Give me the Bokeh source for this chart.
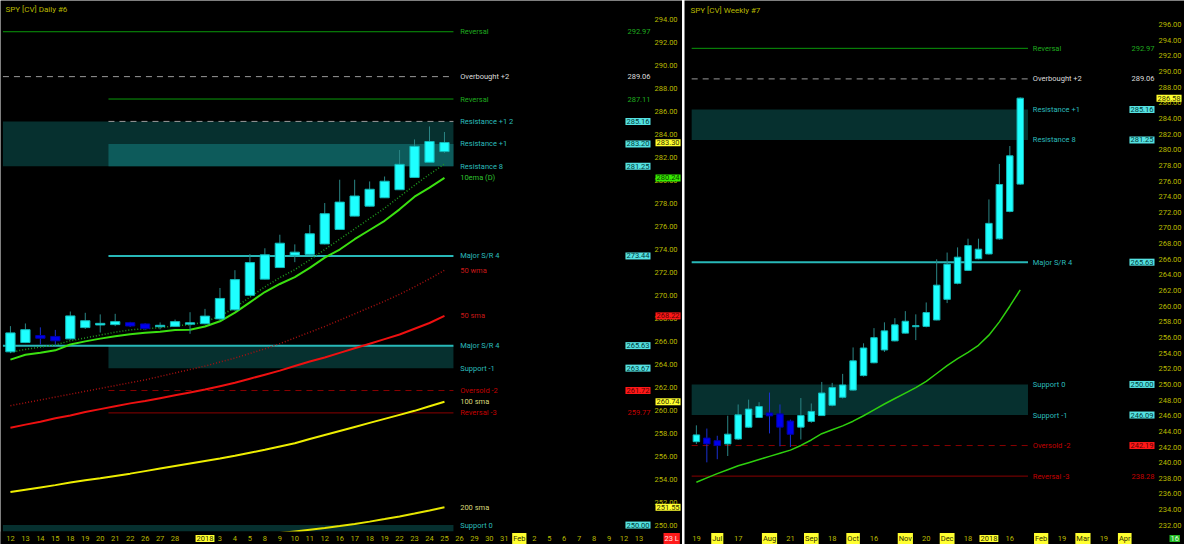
from bokeh.plotting import figure
from bokeh.models import Range1d, Label, ColumnDataSource
from bokeh.core.properties import value
from bokeh.layouts import row
from bokeh.embed import file_html
from bokeh.resources import INLINE

# ---------------- DATA ----------------
# Daily panel (Dec 12 2017 .. Feb 13 2018 axis, candles to Jan 25)
daily_tick_labels = ["12", "13", "14", "15", "18", "19", "20", "21", "22", "26", "27", "28", "",
                     "2018", "3", "4", "5", "8", "9", "10", "11", "12", "16", "17", "18", "19",
                     "22", "23", "24", "25", "26", "29", "30", "31", "Feb", "2", "5", "6", "7",
                     "8", "9", "12", "13"]
daily_highlight = ["2018", "Feb"]
daily_yticks = [250, 252, 254, 256, 258, 260, 262, 264, 266, 268, 270, 272, 274, 276, 278, 280,
                282, 284, 286, 288, 290, 292, 294]
daily_open = [265.11, 265.92, 266.49, 266.41, 266.24, 267.22, 267.45, 267.48, 267.61, 267.50,
              267.30, 267.33, 267.52, 267.56, 267.98, 268.77, 270.03, 271.44, 272.45, 273.52,
              273.60, 274.51, 275.77, 276.93, 277.80, 278.53, 279.23, 280.30, 281.62, 282.55]
daily_high = [267.33, 267.56, 267.22, 267.00, 268.60, 268.49, 268.35, 268.40, 267.70, 267.58,
              267.65, 267.90, 268.54, 268.83, 270.65, 272.20, 273.60, 274.11, 275.29, 274.45,
              276.14, 278.05, 280.08, 280.08, 279.93, 280.36, 282.67, 283.59, 284.72, 284.24]
daily_low = [264.97, 265.85, 265.73, 265.73, 266.15, 267.08, 266.77, 267.33, 267.25, 267.00,
             267.05, 267.27, 266.66, 267.48, 267.84, 268.68, 270.00, 271.40, 272.40, 272.90,
             273.55, 274.45, 275.70, 276.90, 277.75, 278.50, 279.20, 280.25, 281.60, 282.41]
daily_close = [266.72, 267.00, 266.29, 266.07, 268.20, 267.78, 267.55, 267.70, 267.36, 267.14,
               267.38, 267.70, 267.60, 268.18, 269.72, 271.36, 272.84, 273.52, 274.53, 273.75,
               275.35, 277.10, 278.11, 278.64, 279.23, 279.93, 281.40, 282.97, 283.39, 283.30]
daily_ema10 = [264.41, 264.83, 265.00, 265.22, 265.73, 266.00, 266.24, 266.45, 266.63, 266.75,
               266.83, 267.00, 267.02, 267.30, 267.75, 268.50, 269.40, 270.30, 271.00, 271.60,
               272.40, 273.30, 274.00, 274.90, 275.70, 276.50, 277.50, 278.60, 279.40, 280.24]
daily_dotted = [265.05, 265.30, 265.50, 265.70, 266.05, 266.30, 266.55, 266.80, 267.00, 267.10,
                267.20, 267.35, 267.45, 267.70, 268.20, 268.95, 269.85, 270.75, 271.55, 272.25,
                273.10, 274.00, 274.90, 275.80, 276.70, 277.60, 278.60, 279.60, 280.55, 281.45]
daily_wma50 = [260.40, 260.65, 260.90, 261.15, 261.40, 261.65, 261.90, 262.15, 262.40, 262.65,
               262.95, 263.25, 263.55, 263.85, 264.20, 264.55, 264.95, 265.35, 265.80, 266.30,
               266.80, 267.30, 267.85, 268.40, 268.95, 269.50, 270.10, 270.75, 271.45, 272.20]
daily_sma50 = [258.47, 258.75, 259.00, 259.30, 259.55, 259.85, 260.10, 260.35, 260.60, 260.80,
               261.05, 261.30, 261.55, 261.80, 262.10, 262.40, 262.75, 263.10, 263.45, 263.85,
               264.25, 264.60, 265.00, 265.40, 265.80, 266.20, 266.60, 267.10, 267.60, 268.22]
daily_sma100 = [252.88, 253.08, 253.28, 253.48, 253.70, 253.90, 254.08, 254.28, 254.48, 254.70,
                254.92, 255.14, 255.36, 255.58, 255.80, 256.04, 256.30, 256.56, 256.84, 257.12,
                257.50, 257.85, 258.20, 258.55, 258.90, 259.25, 259.60, 259.95, 260.35, 260.74]
daily_sma200 = [246.90, 247.00, 247.10, 247.20, 247.30, 247.40, 247.50, 247.60, 247.70, 247.80,
                247.90, 248.05, 248.20, 248.35, 248.50, 248.70, 248.90, 249.10, 249.30, 249.45,
                249.60, 249.75, 249.92, 250.10, 250.30, 250.52, 250.75, 251.00, 251.27, 251.55]
daily_level_names = ["Reversal", "Overbought +2", "Reversal", "Resistance +1 2", "Resistance +1",
                     "Resistance 8", "Major S/R 4", "Major S/R 4", "Support -1", "Oversold -2",
                     "Reversal -3", "Support 0"]
daily_level_values = [292.97, 289.06, 287.11, 285.16, 283.20, 281.25, 273.44, 265.63, 263.67,
                      261.72, 259.77, 250.00]
daily_ind_names = ["10ema (D)", "50 wma", "50 sma", "100 sma", "200 sma"]
daily_last = 283.30

# Weekly panel (Jun 19 2017 .. Jan 22 2018 candles)
weekly_tick_idx = [0, 2, 4, 7, 9, 11, 13, 15, 17, 20, 22, 24, 26, 28, 30, 33, 35, 37, 39, 41]
weekly_tick_text = ["19", "Jul", "17", "Aug", "21", "Sep", "18", "Oct", "16", "Nov", "20", "Dec",
                    "18", "2018", "16", "Feb", "19", "Mar", "19", "Apr"]
weekly_highlight = ["Jul", "Aug", "Sep", "Oct", "Nov", "Dec", "2018", "Feb", "Mar", "Apr"]
weekly_yticks = [232, 234, 236, 238, 240, 242, 244, 246, 248, 250, 252, 254, 256, 258, 260, 262,
                 264, 266, 268, 270, 272, 274, 276, 278, 280, 282, 284, 286, 288, 290, 292, 294,
                 296]
weekly_open = [242.70, 243.12, 242.79, 242.42, 243.04, 244.56, 245.79, 246.33, 246.21, 245.30,
               244.56, 245.30, 246.04, 247.36, 248.38, 249.30, 251.15, 252.79, 254.43, 255.59,
               256.58, 257.40, 257.44, 258.26, 260.90, 262.95, 264.60, 266.09, 266.70, 268.63,
               272.14, 275.63]
weekly_high = [244.77, 244.36, 243.44, 246.00, 247.44, 248.06, 247.73, 248.96, 247.44, 245.50,
               248.26, 247.57, 250.32, 250.20, 251.35, 254.73, 255.26, 257.20, 257.94, 258.47,
               259.37, 258.96, 260.48, 266.00, 266.86, 267.52, 268.63, 268.63, 273.65, 278.19,
               280.48, 286.70]
weekly_low = [242.38, 240.04, 240.44, 240.85, 242.90, 244.45, 245.70, 243.74, 242.09, 242.00,
              242.96, 245.10, 246.00, 247.20, 248.20, 249.20, 251.00, 252.70, 254.15, 255.50,
              256.50, 255.67, 257.30, 258.20, 260.40, 262.80, 264.50, 266.00, 266.60, 268.50,
              272.00, 275.50]
weekly_close = [243.53, 242.42, 242.21, 243.62, 246.09, 246.83, 247.15, 246.00, 244.56, 243.65,
                246.00, 246.53, 248.88, 249.58, 249.91, 253.00, 254.64, 255.96, 256.83, 257.60,
                258.06, 257.50, 259.17, 262.67, 265.35, 266.25, 267.73, 267.27, 270.57, 275.54,
                279.21, 286.58]
weekly_ma = [237.50, 238.05, 238.60, 239.10, 239.60, 240.00, 240.40, 240.80, 241.20, 241.60,
             242.20, 242.90, 243.70, 244.20, 244.70, 245.30, 246.00, 246.75, 247.50, 248.20,
             248.90, 249.60, 250.40, 251.40, 252.40, 253.30, 254.10, 255.00, 256.30, 258.00,
             260.00, 262.10]
weekly_level_names = ["Reversal", "Overbought +2", "Resistance +1", "Resistance 8", "Major S/R 4",
                      "Support 0", "Support -1", "Oversold -2", "Reversal -3"]
weekly_level_values = [292.97, 289.06, 285.16, 281.25, 265.63, 250.00, 246.09, 242.19, 238.28]

# ---------------- STYLE ----------------
FONT = "Roboto"
FS = "7.5px"
AXIS_COL = "#b9b900"
CYAN_TXT = "#2bbcbc"
CYAN_BOX = "#55e2e2"
CYAN_BOX_TXT = "#003a3a"
GREEN_LINE = "#0a9a0a"
GREEN_TXT = "#1faa1f"
GRAY = "#9a9a9a"
WHITE_TXT = "#dcdcdc"
DRED = "#8a0000"
RED_TXT = "#c40000"
RED_BOX = "#ff1818"
RED_BOX_TXT = "#5a0000"
YEL_BOX = "#ffff30"
YEL_BOX_TXT = "#303000"
LIME_BOX = "#35ec00"
LIME_BOX_TXT = "#0c3a00"
BAND_DARK = "#06302f"
BAND_LIGHT = "#0d5b5b"
SR_LINE = "#28b8b8"
UP_FILL, UP_EDGE, UP_WICK = "#1effff", "#14b8b8", "#2a8585"
DN_FILL, DN_EDGE, DN_WICK = "#0000f0", "#0000a8", "#1a30d0"

H = 544


def make_fig(width, xr, yr):
    p = figure(width=width, height=H, x_range=Range1d(*xr), y_range=Range1d(*yr),
               output_backend="svg", toolbar_location=None,
               x_axis_location=None, y_axis_location=None,
               background_fill_color="#000000", border_fill_color="#000000",
               min_border=0, min_border_left=0, min_border_right=0, min_border_top=0,
               min_border_bottom=0)
    p.grid.visible = False
    p.outline_line_color = None
    return p


def lab(p, x, y, text, color, align="left", bg=None, xoff=0, baseline="middle", size=FS):
    kw = dict(x=x, y=y, text=text, text_color=color, text_font=FONT, text_font_size=size,
              text_align=align, text_baseline=baseline, x_offset=xoff)
    if bg is not None:
        kw.update(background_fill_color=bg, background_fill_alpha=1.0, padding=1)
    p.add_layout(Label(**kw))


def candles(p, o, h, l, c):
    n = len(o)
    up = [c[i] >= o[i] for i in range(n)]
    src = ColumnDataSource(dict(
        x=list(range(n)), h=h, l=l,
        top=[max(o[i], c[i]) + 0.02 for i in range(n)],
        bot=[min(o[i], c[i]) - 0.02 for i in range(n)],
        fill=[UP_FILL if u else DN_FILL for u in up],
        edge=[UP_EDGE if u else DN_EDGE for u in up],
        wick=[UP_WICK if u else DN_WICK for u in up]))
    p.segment("x", "h", "x", "l", source=src, line_color="wick", line_width=1)
    p.vbar(x="x", top="top", bottom="bot", width=0.62, fill_color="fill", line_color="edge",
           line_width=1, source=src)


def axes_text(p, plot_right, plot_bottom, ppu, yticks, xidx, xlabels, highlight, yoff=2):
    # price scale (right)
    p.text(x=[plot_right] * len(yticks), y=yticks, text=[f"{t:.2f}" for t in yticks],
           x_offset=yoff, text_color=AXIS_COL, text_font=value(FONT), text_font_size=FS,
           text_align="left", text_baseline="middle")
    # date scale (bottom)
    yb = plot_bottom - 7.0 / ppu
    xs, ts = [], []
    for i, t in zip(xidx, xlabels):
        if t in highlight:
            lab(p, i, yb, t, YEL_BOX_TXT, align="center", bg=YEL_BOX)
        elif t:
            xs.append(i)
            ts.append(t)
    p.text(x=xs, y=[yb] * len(xs), text=ts, text_color=AXIS_COL, text_font=value(FONT),
           text_font_size=FS, text_align="center", text_baseline="middle")


# ---------------- DAILY ----------------
D_PPX = 14.97
D_PPU = 11.482
D_RIGHT, D_BOTTOM, D_TOP = 42.9, 249.44, 295.43
DXR = (-0.53 - 2 / D_PPX, D_RIGHT + 30 / D_PPX)
DYR = (D_BOTTOM - 13 / D_PPU, D_TOP + 3 / D_PPU)
pd_ = make_fig(682, DXR, DYR)

LEFT_D, START_D, END_D, LBL_D = -0.5, 6.55, 29.6, 30.05
lv = daily_level_values

pd_.quad(left=[LEFT_D, START_D, START_D, LEFT_D], right=[END_D] * 4,
         bottom=[lv[5], lv[5], lv[8], D_BOTTOM], top=[lv[3], lv[4], lv[7], lv[11]],
         fill_color=[BAND_DARK, BAND_LIGHT, BAND_DARK, BAND_DARK], line_color=None)
pd_.segment(x0=[LEFT_D, START_D], x1=[END_D, END_D], y0=[lv[0], lv[2]], y1=[lv[0], lv[2]],
            line_color=GREEN_LINE, line_width=1)
pd_.segment(x0=[LEFT_D, START_D], x1=[END_D, END_D], y0=[lv[1], lv[3]], y1=[lv[1], lv[3]],
            line_color=GRAY, line_width=1, line_dash="6 5")
pd_.segment(x0=[START_D, LEFT_D], x1=[END_D, END_D], y0=[lv[6], lv[7]], y1=[lv[6], lv[7]],
            line_color=SR_LINE, line_width=2)
pd_.segment(x0=[START_D], x1=[END_D], y0=[lv[9]], y1=[lv[9]], line_color=DRED, line_width=1,
            line_dash="6 5")
pd_.segment(x0=[START_D], x1=[END_D], y0=[lv[10]], y1=[lv[10]], line_color=DRED, line_width=1)

xs_d = list(range(len(daily_open)))
vis = [i for i in xs_d if daily_sma200[i] >= D_BOTTOM - 0.3]
pd_.line([xs_d[i] for i in vis], [daily_sma200[i] for i in vis], line_color="#e6e600", line_width=2)
pd_.line(xs_d, daily_sma100, line_color="#eeee00", line_width=2)
pd_.line(xs_d, daily_sma50, line_color="#ee1010", line_width=2)
pd_.line(xs_d, daily_wma50, line_color="#a81010", line_width=1.5, line_dash="1 2")
pd_.line(xs_d, daily_dotted, line_color="#1f9a1f", line_width=1.5, line_dash="1 2")
pd_.line(xs_d, daily_ema10, line_color="#3be010", line_width=2)
candles(pd_, daily_open, daily_high, daily_low, daily_close)
# cover below plot area (date strip)
pd_.quad(left=[DXR[0]], right=[DXR[1]], bottom=[DYR[0]], top=[D_BOTTOM], fill_color="#000000",
         line_color=None)

lvl_colors_d = [GREEN_TXT, WHITE_TXT, GREEN_TXT, CYAN_TXT, CYAN_TXT, CYAN_TXT, CYAN_TXT, CYAN_TXT,
                CYAN_TXT, RED_TXT, RED_TXT, CYAN_TXT]
val_style_d = [(GREEN_TXT, None), (WHITE_TXT, None), (GREEN_TXT, None),
               (CYAN_BOX_TXT, CYAN_BOX), (CYAN_BOX_TXT, CYAN_BOX), (CYAN_BOX_TXT, CYAN_BOX),
               (CYAN_BOX_TXT, CYAN_BOX), (CYAN_BOX_TXT, CYAN_BOX), (CYAN_BOX_TXT, CYAN_BOX),
               (RED_BOX_TXT, RED_BOX), (RED_TXT, None), (CYAN_BOX_TXT, CYAN_BOX)]

axes_text(pd_, D_RIGHT, D_BOTTOM, D_PPU, daily_yticks, range(len(daily_tick_labels)),
          daily_tick_labels, daily_highlight)

for i, (name, v) in enumerate(zip(daily_level_names, daily_level_values)):
    lab(pd_, LBL_D, v, name, lvl_colors_d[i])
    tc, bg = val_style_d[i]
    lab(pd_, D_RIGHT, v, f"{v:.2f}", tc, align="right", bg=bg, xoff=-2)

ind_vals_d = [daily_ema10[-1], daily_wma50[-1], daily_sma50[-1], daily_sma100[-1], daily_sma200[-1]]
ind_cols_d = ["#2fc02f", "#c81818", "#c81818", "#d6d67a", "#d6d67a"]
for name, v, col in zip(daily_ind_names, ind_vals_d, ind_cols_d):
    lab(pd_, LBL_D, v, name, col)
lab(pd_, D_RIGHT, daily_last, f"{daily_last:.2f}", YEL_BOX_TXT, bg=YEL_BOX, xoff=3)
lab(pd_, D_RIGHT, daily_ema10[-1], f"{daily_ema10[-1]:.2f}", LIME_BOX_TXT, bg=LIME_BOX, xoff=3)
lab(pd_, D_RIGHT, daily_sma50[-1], f"{daily_sma50[-1]:.2f}", RED_BOX_TXT, bg=RED_BOX, xoff=3)
lab(pd_, D_RIGHT, daily_sma100[-1], f"{daily_sma100[-1]:.2f}", YEL_BOX_TXT, bg=YEL_BOX, xoff=3)
lab(pd_, D_RIGHT, daily_sma200[-1], f"{daily_sma200[-1]:.2f}", YEL_BOX_TXT, bg=YEL_BOX, xoff=3)

lab(pd_, D_RIGHT, D_BOTTOM - 7.0 / D_PPU, "23 L", "#ffe0e0", bg="#ff1a1a", xoff=11)
lab(pd_, -0.53, D_TOP - 2.0 / D_PPU, "SPY [CV]  Daily  #6", AXIS_COL, baseline="top",
    xoff=3, size="8px")

# ---------------- WEEKLY ----------------
W_PPX = 10.448
W_PPU = 7.822
W_LEFT, W_RIGHT, W_BOTTOM, W_TOP = -0.85, 44.04, 231.2, 298.7
WXR = (W_LEFT - 3 / W_PPX, W_RIGHT + 28 / W_PPX)
WYR = (W_BOTTOM - 13 / W_PPU, W_TOP + 3 / W_PPU)
pw = make_fig(500, WXR, WYR)

LEFT_W, END_W, LBL_W = -0.45, 31.74, 32.2
wv = weekly_level_values
pw.quad(left=[LEFT_W, LEFT_W], right=[END_W, END_W], bottom=[wv[3], wv[6]], top=[wv[2], wv[5]],
        fill_color=BAND_DARK, line_color=None)
pw.segment(x0=[LEFT_W], x1=[END_W], y0=[wv[0]], y1=[wv[0]], line_color=GREEN_LINE, line_width=1)
pw.segment(x0=[LEFT_W], x1=[END_W], y0=[wv[1]], y1=[wv[1]], line_color=GRAY, line_width=1,
           line_dash="6 5")
pw.segment(x0=[LEFT_W], x1=[END_W], y0=[wv[4]], y1=[wv[4]], line_color=SR_LINE, line_width=2)
pw.segment(x0=[LEFT_W], x1=[END_W], y0=[wv[7]], y1=[wv[7]], line_color=DRED, line_width=1,
           line_dash="6 5")
pw.segment(x0=[LEFT_W], x1=[END_W], y0=[wv[8]], y1=[wv[8]], line_color=DRED, line_width=1)

xs_w = list(range(len(weekly_open)))
pw.line(xs_w, weekly_ma, line_color="#2ed00e", line_width=1.5)
candles(pw, weekly_open, weekly_high, weekly_low, weekly_close)

axes_text(pw, W_RIGHT, W_BOTTOM, W_PPU, weekly_yticks, weekly_tick_idx, weekly_tick_text,
          weekly_highlight, yoff=2)

lvl_colors_w = [GREEN_TXT, WHITE_TXT, CYAN_TXT, CYAN_TXT, CYAN_TXT, CYAN_TXT, CYAN_TXT, RED_TXT, RED_TXT]
val_style_w = [(GREEN_TXT, None), (WHITE_TXT, None), (CYAN_BOX_TXT, CYAN_BOX),
               (CYAN_BOX_TXT, CYAN_BOX), (CYAN_BOX_TXT, CYAN_BOX), (CYAN_BOX_TXT, CYAN_BOX),
               (CYAN_BOX_TXT, CYAN_BOX), (RED_BOX_TXT, RED_BOX), (RED_TXT, None)]
for i, (name, v) in enumerate(zip(weekly_level_names, weekly_level_values)):
    lab(pw, LBL_W, v, name, lvl_colors_w[i])
    tc, bg = val_style_w[i]
    lab(pw, W_RIGHT, v, f"{v:.2f}", tc, align="right", bg=bg, xoff=-2)
lab(pw, W_RIGHT, weekly_close[-1], f"{weekly_close[-1]:.2f}", YEL_BOX_TXT, bg=YEL_BOX, xoff=0)

lab(pw, W_RIGHT, W_BOTTOM - 7.0 / W_PPU, "16", "#e8ffe8", bg="#22b822", xoff=13)
lab(pw, W_LEFT, W_TOP - 2.0 / W_PPU, "SPY [CV]  Weekly  #7", AXIS_COL, baseline="top",
    xoff=3, size="8px")

layout = row(pd_, pw, spacing=2)
open("out.html", "w").write(file_html(layout, INLINE))
